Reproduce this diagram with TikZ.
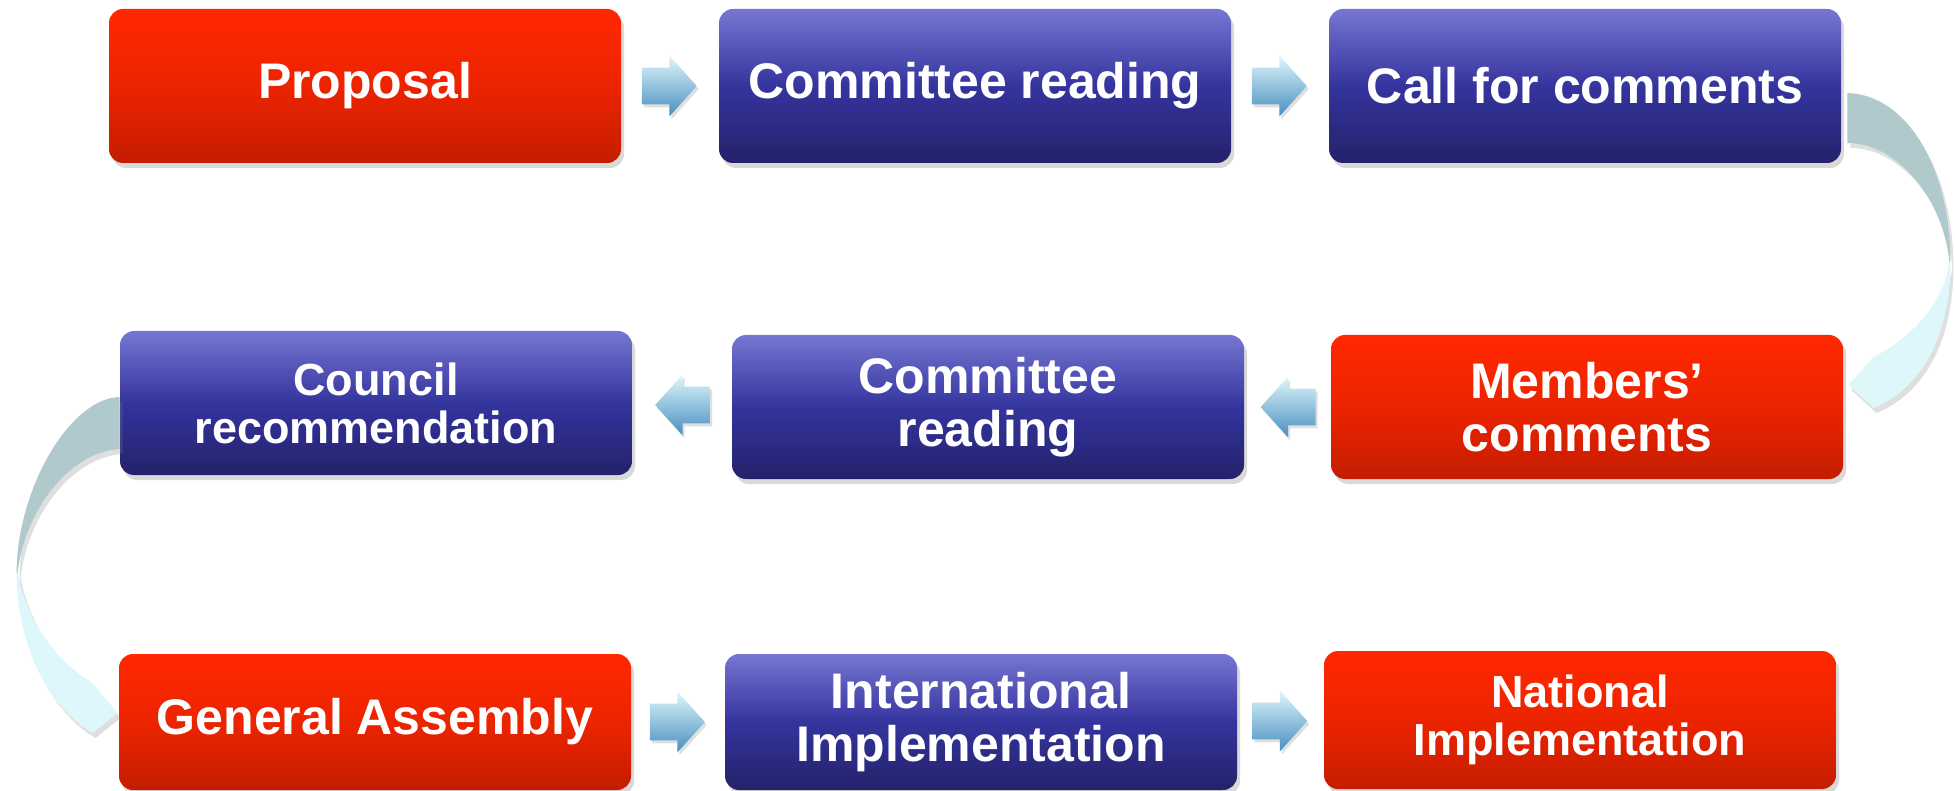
\documentclass[tikz,border=0pt]{standalone}
\usepackage{fontspec}
\setmainfont{Liberation Sans}
\usetikzlibrary{calc,shapes.arrows,shadows}

\definecolor{redtop}{RGB}{255,40,0}
\definecolor{redmid}{RGB}{236,36,0}
\definecolor{redbot}{RGB}{196,28,0}
\definecolor{bluetop}{RGB}{118,118,210}
\definecolor{bluemid}{RGB}{52,52,158}
\definecolor{bluebot}{RGB}{36,34,106}
\definecolor{arrtop}{RGB}{222,247,251}
\definecolor{arrbot}{RGB}{72,142,192}
\definecolor{ribback}{RGB}{176,201,204}
\definecolor{ribfront}{RGB}{222,247,250}

\begin{document}
\begin{tikzpicture}[x=0.5pt, y=-0.5pt,
  stage/.style={rounded corners=7pt, minimum width=256pt, inner sep=0pt,
    align=center, text=white, font=\fontsize{25}{26.5}\selectfont\bfseries,
    drop shadow={opacity=0.3, shadow xshift=1.5pt, shadow yshift=-2.5pt}},
  redstage/.style={stage, top color=redtop, bottom color=redbot, middle color=redmid},
  bluestage/.style={stage, top color=bluetop, bottom color=bluebot, middle color=bluemid},
  small/.style={font=\fontsize{22.5}{24}\selectfont\bfseries},
  blockarrow/.style={single arrow, top color=arrtop, bottom color=arrbot,
    minimum height=27.5pt, inner xsep=0pt, inner ysep=9pt,
    single arrow head extend=6pt, single arrow tip angle=96,
    drop shadow={opacity=0.25, shadow xshift=1pt, shadow yshift=-1.5pt}},
  rightarrow/.style={blockarrow, xshift=-4.5pt},
  leftarrow/.style={blockarrow, shape border rotate=180, xshift=4.5pt},
  ribbon/.style={drop shadow={opacity=0.25, shadow xshift=1.5pt, shadow yshift=-2.5pt}}]

  \useasboundingbox (0,0) rectangle (1955,791); %% page size

  %% first row
  \node[redstage, minimum height=77pt] (prop) at (365,86) {Proposal};
  \node[bluestage, minimum height=77pt] (read1) at (975,86) {Committee reading};
  \node[bluestage, minimum height=77pt] (call) at (1585,86) {Call for comments};

  %% second row
  \node[bluestage, small, minimum height=72pt] (council) at (376,403)
    {Council\\recommendation};
  \node[bluestage, minimum height=72pt] (read2) at (988,407) {Committee\\reading};
  \node[redstage, minimum height=72pt] (members) at (1587,407) {Members’\\comments};

  %% third row
  \node[redstage, minimum height=68pt] (assembly) at (375,722) {General Assembly};
  \node[bluestage, minimum height=68pt] (intl) at (981,722)
    {International\\Implementation};
  \node[redstage, small, minimum height=69pt] (natl) at (1580,720)
    {National\\Implementation};

  %% block arrows
  \node[rightarrow] (a1) at ($(prop.east)!.5!(read1.west)$) {};
  \node[rightarrow] (a2) at ($(read1.east)!.5!(call.west)$) {};
  \node[leftarrow] (a3) at ($(members.west)!.5!(read2.east)$) {};
  \node[leftarrow] (a4) at ($(read2.west)!.5!(council.east)$) {};
  \node[rightarrow] (a5) at ($(assembly.east)!.5!(intl.west)$) {};
  \node[rightarrow] (a6) at ($(intl.east)!.5!(natl.west)$) {};

  %% ribbon right
  \begin{scope}[shift={(call.east)}]
    \fill[ribback, ribbon] (6,7) .. controls (67,9) and (109,84) .. (109,176)
      -- (108,176) .. controls (102,114) and (57,57) .. (6,57) -- cycle;
    \fill[ribfront, ribbon] (109,176) .. controls (109,254) and (77,304) .. (32,322)
      -- (7,299) -- (32,271) .. controls (67,254) and (102,219) .. (108,176) -- cycle;
  \end{scope}

  %% ribbon left
  \begin{scope}[shift={(council.west)}]
    \fill[ribback, ribbon] (0,-6) .. controls (-50,-5) and (-103,87) .. (-103,170)
      -- (-102,170) .. controls (-95,107) and (-50,49) .. (0,46) -- cycle;
    \fill[ribfront, ribbon] (-103,170) .. controls (-103,237) and (-75,302) .. (-27,330)
      -- (-2,310) -- (-27,280) .. controls (-65,257) and (-93,217) .. (-102,170) -- cycle;
  \end{scope}

\end{tikzpicture}
\end{document}
